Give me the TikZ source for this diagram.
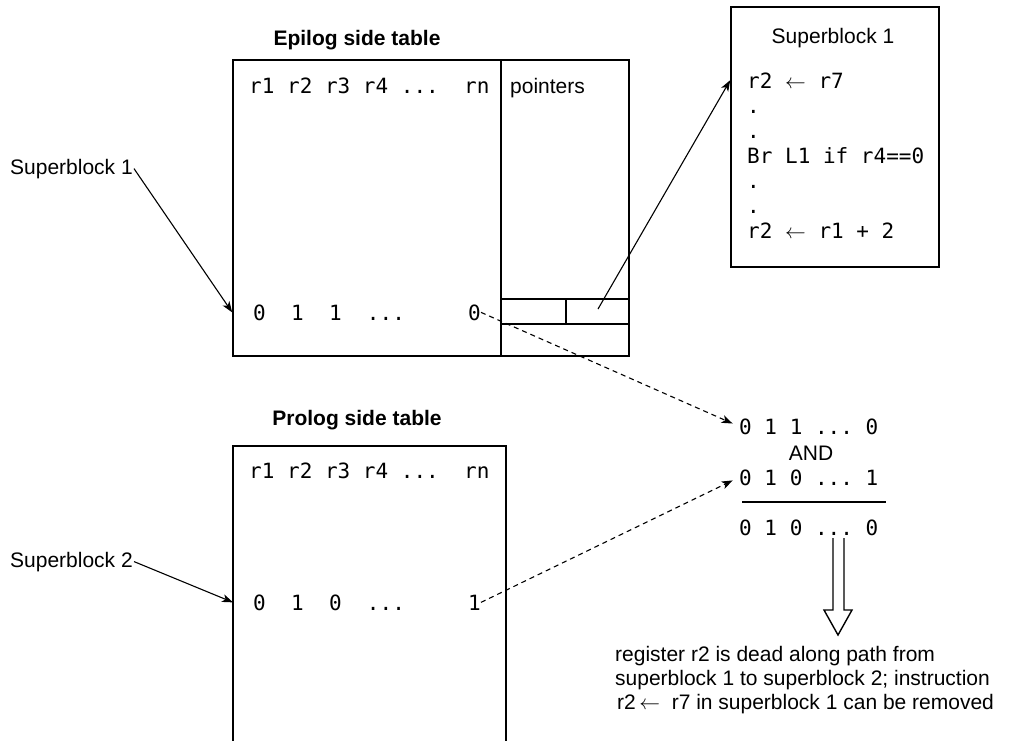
\documentclass[tikz,border=0pt]{standalone}
\usepackage{fontspec}
\setmainfont{Liberation Sans}
\setmonofont{DejaVu Sans Mono}
\usetikzlibrary{arrows.meta,positioning,calc}
\tikzset{
  >={Stealth[length=11pt,width=8pt,inset=3pt]},
  frame/.style={draw,line width=1.6pt,inner sep=0pt},
  cell/.style={draw,line width=1.1pt},
  heading/.style={font=\fontsize{21}{25}\selectfont\bfseries,inner sep=0pt,anchor=base},
  lbl/.style={font=\fontsize{21}{25}\selectfont,inner sep=1pt,anchor=base west},
  regs/.style={font=\fontsize{21}{25}\selectfont\ttfamily,inner sep=0pt,anchor=base west},
  link/.style={->,line width=1.1pt},
  dlink/.style={->,line width=1.1pt,dash pattern=on 5pt off 4pt,shorten >=7pt},
}

\begin{document}
\begin{tikzpicture}[x=1pt,y=-1pt]
  \useasboundingbox (0,0) rectangle (1021,740);
  % epilog table
  \node[heading] (epiT) at (357,45) {Epilog side table};
  \node[frame,minimum width=396pt,minimum height=296pt] (epi) at (431,208) {};
  \draw[cell] (501,60) -- (501,356);
  \draw[cell] (501,299) -- (629,299) (501,324) -- (629,324) (566,299) -- (566,324);
  \coordinate (ptr) at (598,309);
  \node[regs] (epiH) at (249,93) {r1~r2~r3~r4~...~~rn};
  \node[lbl,inner sep=0pt] (ptrs) at (510,93) {pointers};
  \node[regs] (epiR) at (253,320) {0~~1~~1~~...~~~~~0};
  % prolog table
  \node[heading] (proT) at (357,425) {Prolog side table};
  \draw[line width=1.6pt] (233,745) -- (233,446) -- (506,446) -- (506,745);
  \coordinate (proW) at (233,446);
  \node[regs] (proH) at (249,478) {r1~r2~r3~r4~...~~rn};
  \node[regs] (proR) at (253,610) {0~~1~~0~~...~~~~~1};
  % superblock labels
  \node[lbl] (sbA) at (9,174) {Superblock 1};
  \node[lbl] (sbB) at (9,567) {Superblock 2};
  \draw[link] (sbA.east) -- (epi.west |- epiR);
  \draw[link] (sbB.east) -- (proW |- proR);
  % superblock 1 code
  \node[frame,minimum width=208pt,minimum height=260pt] (sb) at (835,137) {};
  \node[lbl,anchor=base] (sbT) at (833,43) {Superblock 1};
  \foreach \t [count=\i from 0] in {r2 $\leftarrow$ r7,.,.,Br L1 if r4==0,.,.,r2 $\leftarrow$ r1 + 2}
    \node[regs] (ln\i) at (747,88+25*\i) {\t};
  \draw[link] (ptr) -- (sb.west |- ln0);
  % AND of the two rows
  \node[regs] (eBits) at (739,434) {0~1~1~...~0};
  \node[lbl,anchor=base,inner sep=0pt] (andT) at (811,460) {AND};
  \node[regs] (pBits) at (739,485) {0~1~0~...~1};
  \draw[line width=1.6pt] (742,502) -- (886,502);
  \node[regs] (rBits) at (739,535) {0~1~0~...~0};
  \draw[dlink] (epiR.east) -- (eBits.west);
  \draw[dlink] (proR.east) -- (pBits.west);
  \draw[line width=1.4pt,line join=miter] (833,538) -- (833,610) -- (824,610) -- (838,635)
    -- (852,610) -- (844,610) -- (844,538);
  \node[lbl,inner sep=0pt] (res1) at (615,661) {register r2 is dead along path from};
  \node[lbl,inner sep=0pt] (res2) at (615,685) {superblock 1 to superblock 2; instruction};
  \node[lbl,inner sep=0pt] (res3) at (617,709) {r2\,$\leftarrow$~~r7 in superblock 1 can be removed};
\end{tikzpicture}
\end{document}
